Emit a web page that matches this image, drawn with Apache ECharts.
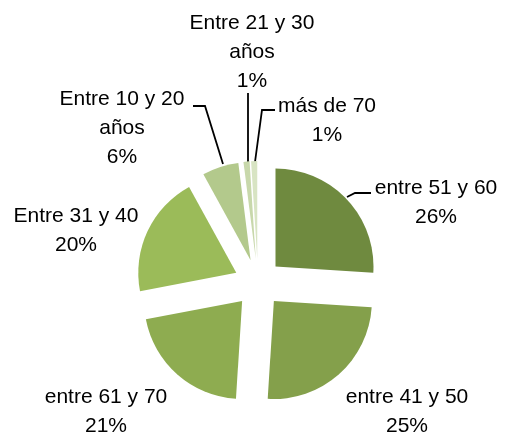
<!DOCTYPE html>
<html>
<head>
<meta charset="utf-8">
<script src="https://cdn.jsdelivr.net/npm/echarts@6/dist/echarts.min.js"></script>
<style>
  html, body { margin: 0; padding: 0; background: #fff; }
  #chart { width: 508px; height: 434px; }
</style>
</head>
<body>
<div id="chart"></div>
<script>
// rangos de edad, en el orden del gráfico (desde arriba, sentido horario)
const categories = ['entre 51 y 60', 'entre 41 y 50', 'entre 61 y 70', 'Entre 31 y 40', 'Entre 10 y 20 años', 'Entre 21 y 30 años', 'más de 70']
const percents = [26, 25, 21, 20, 6, 1, 1]
const colors = ['#6f8a3f', '#84a04b', '#8eac50', '#9bbb59', '#b3c98c', '#c8d8ab', '#d8e4c3']

// centro del bloque de texto de cada etiqueta
const labelPos = [
  [436, 203], [407, 412], [106, 412], [76, 231], [122, 128], [252, 52], [327, 121]
]
// líneas guía (solo para algunas etiquetas)
const leaderLines = [
  [[347, 197], [355, 193], [371, 193]],
  [[223, 164], [205, 106], [193, 106]],
  [[248, 162], [248, 93]],
  [[255, 162], [262, 110], [275, 110]]
]

const chart = echarts.init(document.getElementById('chart'))

const labelTexts = categories.map((name, i) => {
  return {
    type: 'text',
    x: labelPos[i][0],
    y: labelPos[i][1],
    silent: true,
    style: {
      text: name.replace(' años', '\naños') + '\n' + percents[i] + '%',
      fill: '#000',
      font: '21px "Liberation Sans"',
      lineHeight: 29,
      textAlign: 'center',
      textVerticalAlign: 'middle'
    }
  }
})

const lines = leaderLines.map((pts) => ({
  type: 'polyline',
  silent: true,
  shape: { points: pts },
  style: { stroke: '#000', lineWidth: 1.8, fill: null }
}))

const option = {
  animation: false,
  graphic: lines.concat(labelTexts),
  series: [
    {
      type: 'pie',
      center: [258, 283],
      radius: 98,
      startAngle: 90,
      clockwise: true,
      selectedMode: 'multiple',
      selectedOffset: 24,
      silent: true,
      data: categories.map((name, i) => ({
        name: name,
        value: percents[i],
        selected: true,
        itemStyle: { color: colors[i] }
      })),
      itemStyle: { borderWidth: 0 },
      select: { itemStyle: { borderWidth: 0 } },
      emphasis: { disabled: true },
      label: { show: false },
      labelLine: { show: false }
    }
  ]
}

chart.setOption(option)
</script>
</body>
</html>
